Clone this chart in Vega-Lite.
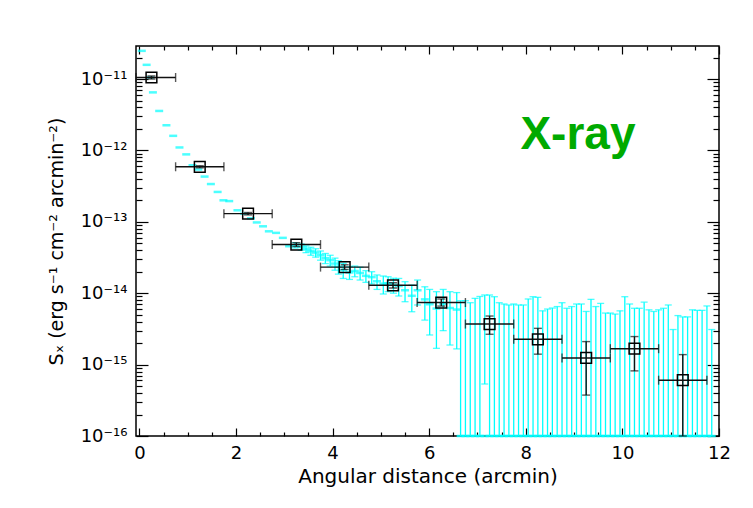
{
  "$schema": "https://vega.github.io/schema/vega-lite/v6.json",
  "width": 583,
  "height": 390,
  "autosize": {"type": "none"},
  "padding": {"left": 136, "top": 46, "right": 34, "bottom": 72},
  "background": "white",
  "config": {
    "view": {"stroke": "#000", "strokeWidth": 1.5},
    "axis": {
      "grid": false, "domain": false, "tickColor": "#000", "tickWidth": 1.2,
      "labelColor": "#000", "titleColor": "#000",
      "labelFont": "DejaVu Sans", "titleFont": "DejaVu Sans",
      "labelFontWeight": "normal", "titleFontWeight": "normal",
      "labelOverlap": false, "labelBound": false, "labelFlush": false
    }
  },
  "datasets": {
    "model": [
      {"x": 0.05, "y": 2.48e-11}, {"x": 0.15, "y": 1.58e-11}, {"x": 0.22, "y": 1.05e-11},
      {"x": 0.28, "y": 6.5e-12}, {"x": 0.41, "y": 3.57e-12}, {"x": 0.56, "y": 2.25e-12},
      {"x": 0.70, "y": 1.6e-12}, {"x": 0.83, "y": 1.1e-12}, {"x": 0.97, "y": 8.8e-13},
      {"x": 1.10, "y": 6.2e-13}, {"x": 1.22, "y": 5.4e-13}, {"x": 1.35, "y": 4.3e-13},
      {"x": 1.48, "y": 3.38e-13}, {"x": 1.62, "y": 2.62e-13}, {"x": 1.74, "y": 2.0e-13},
      {"x": 1.86, "y": 1.95e-13}, {"x": 2.03, "y": 1.45e-13}, {"x": 2.17, "y": 1.3e-13},
      {"x": 2.31, "y": 1.12e-13}, {"x": 2.43, "y": 9.8e-14}, {"x": 2.56, "y": 8.65e-14},
      {"x": 2.68, "y": 7.36e-14}, {"x": 2.83, "y": 7.0e-14}, {"x": 2.97, "y": 5.96e-14},
      {"x": 3.10, "y": 4.55e-14},
      {"x": 3.22, "y": 4.7e-14, "lo": 4.3e-14, "hi": 5.1e-14},
      {"x": 3.35, "y": 4.45e-14, "lo": 4.0e-14, "hi": 4.9e-14},
      {"x": 3.45, "y": 4.15e-14, "lo": 3.7e-14, "hi": 4.6e-14},
      {"x": 3.55, "y": 3.9e-14, "lo": 3.4e-14, "hi": 4.4e-14},
      {"x": 3.65, "y": 3.7e-14, "lo": 3.2e-14, "hi": 4.2e-14},
      {"x": 3.75, "y": 3.4e-14, "lo": 2.9e-14, "hi": 3.9e-14},
      {"x": 3.85, "y": 3.1e-14, "lo": 2.6e-14, "hi": 3.6e-14},
      {"x": 3.95, "y": 2.9e-14, "lo": 2.4e-14, "hi": 3.4e-14},
      {"x": 4.05, "y": 2.6e-14, "lo": 2.1e-14, "hi": 3.1e-14},
      {"x": 4.12, "y": 2.35e-14, "lo": 1.85e-14, "hi": 2.85e-14},
      {"x": 4.22, "y": 2.1e-14, "lo": 1.61e-14, "hi": 2.62e-14},
      {"x": 4.35, "y": 1.95e-14, "lo": 1.56e-14, "hi": 2.35e-14},
      {"x": 4.46, "y": 2.05e-14, "lo": 1.7e-14, "hi": 2.4e-14},
      {"x": 4.57, "y": 1.92e-14, "lo": 1.53e-14, "hi": 2.31e-14},
      {"x": 4.69, "y": 1.75e-14, "lo": 1.42e-14, "hi": 2.07e-14},
      {"x": 4.81, "y": 1.68e-14, "lo": 1.35e-14, "hi": 2.0e-14},
      {"x": 4.92, "y": 1.47e-14, "lo": 1.13e-14, "hi": 1.8e-14},
      {"x": 5.05, "y": 1.36e-14, "lo": 9.75e-15, "hi": 1.74e-14},
      {"x": 5.15, "y": 1.38e-14, "lo": 1.05e-14, "hi": 1.7e-14},
      {"x": 5.26, "y": 1.31e-14, "lo": 1.0e-14, "hi": 1.62e-14},
      {"x": 5.37, "y": 1.26e-14, "lo": 9.14e-15, "hi": 1.61e-14},
      {"x": 5.50, "y": 1.1e-14, "lo": 7.6e-15, "hi": 1.45e-14},
      {"x": 5.64, "y": 9.2e-15, "lo": 5.5e-15, "hi": 1.3e-14},
      {"x": 5.76, "y": 1.1e-14, "lo": 6.84e-15, "hi": 1.53e-14},
      {"x": 5.91, "y": 8.2e-15, "lo": 4.2e-15, "hi": 1.23e-14},
      {"x": 6.01, "y": 7.0e-15, "lo": 2.6e-15, "hi": 1.13e-14},
      {"x": 6.15, "y": 6.1e-15, "lo": 1.69e-15, "hi": 1.05e-14},
      {"x": 6.29, "y": 7.1e-15, "lo": 2.99e-15, "hi": 1.13e-14},
      {"x": 6.43, "y": 6.2e-15, "lo": 1.88e-15, "hi": 1.05e-14},
      {"x": 6.57, "y": 5.9e-15, "lo": 1.66e-15, "hi": 1.02e-14},
      {"x": 6.65, "y": 5e-17, "lo": 5e-17, "hi": 7.85e-15},
      {"x": 6.75, "y": 5e-17, "lo": 5e-17, "hi": 7.85e-15},
      {"x": 6.85, "y": 5e-17, "lo": 5e-17, "hi": 7.36e-15},
      {"x": 6.95, "y": 5e-17, "lo": 5e-17, "hi": 8.47e-15},
      {"x": 7.05, "y": 5e-17, "lo": 5e-17, "hi": 9.0e-15},
      {"x": 7.15, "y": 5e-17, "lo": 5.35e-16, "hi": 9.44e-15},
      {"x": 7.25, "y": 5e-17, "lo": 5e-17, "hi": 9.44e-15},
      {"x": 7.35, "y": 5e-17, "lo": 5e-17, "hi": 8.93e-15},
      {"x": 7.45, "y": 5e-17, "lo": 5e-17, "hi": 7.36e-15},
      {"x": 7.55, "y": 5e-17, "lo": 5e-17, "hi": 7.06e-15},
      {"x": 7.65, "y": 5e-17, "lo": 5e-17, "hi": 6.84e-15},
      {"x": 7.75, "y": 5e-17, "lo": 5e-17, "hi": 7.06e-15},
      {"x": 7.85, "y": 5e-17, "lo": 5e-17, "hi": 6.84e-15},
      {"x": 7.95, "y": 5e-17, "lo": 5e-17, "hi": 6.84e-15},
      {"x": 8.05, "y": 5e-17, "lo": 5e-17, "hi": 8.3e-15},
      {"x": 8.15, "y": 5e-17, "lo": 5e-17, "hi": 8.93e-15},
      {"x": 8.25, "y": 5e-17, "lo": 5e-17, "hi": 8.75e-15},
      {"x": 8.35, "y": 5e-17, "lo": 5e-17, "hi": 5.66e-15},
      {"x": 8.45, "y": 5e-17, "lo": 5e-17, "hi": 6.0e-15},
      {"x": 8.55, "y": 5e-17, "lo": 5e-17, "hi": 6.2e-15},
      {"x": 8.65, "y": 5e-17, "lo": 5e-17, "hi": 6.5e-15},
      {"x": 8.75, "y": 5e-17, "lo": 5e-17, "hi": 7.36e-15},
      {"x": 8.85, "y": 5e-17, "lo": 5e-17, "hi": 6.15e-15},
      {"x": 8.95, "y": 5e-17, "lo": 5e-17, "hi": 6.5e-15},
      {"x": 9.05, "y": 5e-17, "lo": 5e-17, "hi": 7.06e-15},
      {"x": 9.15, "y": 5e-17, "lo": 5e-17, "hi": 7.06e-15},
      {"x": 9.25, "y": 5e-17, "lo": 5e-17, "hi": 5.55e-15},
      {"x": 9.35, "y": 5e-17, "lo": 5e-17, "hi": 8.2e-15},
      {"x": 9.45, "y": 5e-17, "lo": 5e-17, "hi": 6.5e-15},
      {"x": 9.55, "y": 5e-17, "lo": 5e-17, "hi": 7.2e-15},
      {"x": 9.65, "y": 5e-17, "lo": 5e-17, "hi": 5.27e-15},
      {"x": 9.75, "y": 5e-17, "lo": 5e-17, "hi": 5.27e-15},
      {"x": 9.85, "y": 5e-17, "lo": 5e-17, "hi": 5.1e-15},
      {"x": 9.95, "y": 5e-17, "lo": 5e-17, "hi": 5.66e-15},
      {"x": 10.05, "y": 5e-17, "lo": 5e-17, "hi": 8.93e-15},
      {"x": 10.15, "y": 5e-17, "lo": 5e-17, "hi": 7.06e-15},
      {"x": 10.25, "y": 5e-17, "lo": 5e-17, "hi": 6.15e-15},
      {"x": 10.35, "y": 5e-17, "lo": 5e-17, "hi": 6.15e-15},
      {"x": 10.45, "y": 5e-17, "lo": 5e-17, "hi": 7.5e-15},
      {"x": 10.55, "y": 5e-17, "lo": 5e-17, "hi": 5.85e-15},
      {"x": 10.65, "y": 5e-17, "lo": 5e-17, "hi": 5.55e-15},
      {"x": 10.75, "y": 5e-17, "lo": 5e-17, "hi": 5.85e-15},
      {"x": 10.85, "y": 5e-17, "lo": 5e-17, "hi": 6.15e-15},
      {"x": 10.95, "y": 5e-17, "lo": 5e-17, "hi": 6.84e-15},
      {"x": 11.05, "y": 5e-17, "lo": 5e-17, "hi": 3.1e-15},
      {"x": 11.15, "y": 5e-17, "lo": 5e-17, "hi": 4.86e-15},
      {"x": 11.25, "y": 5e-17, "lo": 5e-17, "hi": 4.66e-15},
      {"x": 11.35, "y": 5e-17, "lo": 5e-17, "hi": 4.66e-15},
      {"x": 11.45, "y": 5e-17, "lo": 5e-17, "hi": 5.85e-15},
      {"x": 11.55, "y": 5e-17, "lo": 5e-17, "hi": 5.75e-15},
      {"x": 11.65, "y": 5e-17, "lo": 5e-17, "hi": 5.75e-15},
      {"x": 11.75, "y": 5e-17, "lo": 5e-17, "hi": 6.63e-15},
      {"x": 11.85, "y": 5e-17, "lo": 5e-17, "hi": 3.1e-15}
    ],
    "profile": [
      {"x": 0.25, "xlo": -0.25, "xhi": 0.75, "y": 1.05e-11, "ylo": 1.0e-11, "yhi": 1.1e-11},
      {"x": 1.25, "xlo": 0.75, "xhi": 1.75, "y": 5.9e-13, "ylo": 5.7e-13, "yhi": 6.1e-13},
      {"x": 2.25, "xlo": 1.75, "xhi": 2.75, "y": 1.3e-13, "ylo": 1.25e-13, "yhi": 1.35e-13},
      {"x": 3.25, "xlo": 2.75, "xhi": 3.75, "y": 4.8e-14, "ylo": 4.5e-14, "yhi": 5.1e-14},
      {"x": 4.25, "xlo": 3.75, "xhi": 4.75, "y": 2.32e-14, "ylo": 2.15e-14, "yhi": 2.5e-14},
      {"x": 5.25, "xlo": 4.75, "xhi": 5.75, "y": 1.29e-14, "ylo": 1.18e-14, "yhi": 1.4e-14},
      {"x": 6.25, "xlo": 5.75, "xhi": 6.75, "y": 7.4e-15, "ylo": 6.6e-15, "yhi": 8.3e-15},
      {"x": 7.25, "xlo": 6.75, "xhi": 7.75, "y": 3.7e-15, "ylo": 2.66e-15, "yhi": 4.79e-15},
      {"x": 8.25, "xlo": 7.75, "xhi": 8.75, "y": 2.26e-15, "ylo": 1.4e-15, "yhi": 3.22e-15},
      {"x": 9.25, "xlo": 8.75, "xhi": 9.75, "y": 1.24e-15, "ylo": 3.74e-16, "yhi": 2.1e-15},
      {"x": 10.25, "xlo": 9.75, "xhi": 10.75, "y": 1.67e-15, "ylo": 8.17e-16, "yhi": 2.47e-15},
      {"x": 11.25, "xlo": 10.75, "xhi": 11.75, "y": 6.05e-16, "ylo": 5e-17, "yhi": 1.38e-15}
    ],
    "label": [{"x": 9.08, "y": 1.05e-12, "text": "X-ray"}]
  },
  "resolve": {"axis": {"x": "independent", "y": "independent"}},
  "layer": [
    {
      "data": {"name": "model"},
      "transform": [{"filter": "isValid(datum.lo)"}],
      "mark": {"type": "rule", "color": "#00ffff", "strokeWidth": 1.3},
      "encoding": {
        "x": {"field": "x", "type": "quantitative",
          "scale": {"domain": [-0.07, 12], "nice": false, "zero": false, "clamp": true},
          "axis": {"orient": "bottom", "values": [0, 2, 4, 6, 8, 10, 12], "tickSize": -8,
            "labelFontSize": 18, "labelPadding": 16, "title": "Angular distance (arcmin)",
            "titleFontSize": 20, "titlePadding": 4}},
        "y": {"field": "lo", "type": "quantitative",
          "scale": {"type": "log", "domain": [1e-16, 2.9e-11], "nice": false, "clamp": true},
          "axis": {"orient": "left", "values": [1e-16, 1e-15, 1e-14, 1e-13, 1e-12, 1e-11], "tickSize": -12,
            "labelFontSize": 18, "labelPadding": 21,
            "labelExpr": "datum.value < 5e-16 ? '10⁻¹⁶' : datum.value < 5e-15 ? '10⁻¹⁵' : datum.value < 5e-14 ? '10⁻¹⁴' : datum.value < 5e-13 ? '10⁻¹³' : datum.value < 5e-12 ? '10⁻¹²' : '10⁻¹¹'",
            "title": "Sₓ (erg s⁻¹ cm⁻² arcmin⁻²)", "titleFontSize": 19, "titlePadding": 14}},
        "y2": {"field": "hi"}
      }
    },
    {
      "data": {"name": "model"},
      "transform": [{"filter": "isValid(datum.hi)"}],
      "mark": {"type": "tick", "orient": "horizontal", "color": "#00ffff", "size": 7, "thickness": 1.3},
      "encoding": {
        "x": {"field": "x", "type": "quantitative",
          "axis": {"orient": "bottom", "values": [0.5, 1, 1.5, 2.5, 3, 3.5, 4.5, 5, 5.5, 6.5, 7, 7.5, 8.5, 9, 9.5, 10.5, 11, 11.5],
            "tickSize": -4, "labels": false, "title": null}},
        "y": {"field": "hi", "type": "quantitative",
          "axis": {"orient": "left", "values": [2e-16, 3e-16, 4e-16, 5e-16, 6e-16, 7e-16, 8e-16, 9e-16, 2e-15, 3e-15, 4e-15, 5e-15, 6e-15, 7e-15, 8e-15, 9e-15, 2e-14, 3e-14, 4e-14, 5e-14, 6e-14, 7e-14, 8e-14, 9e-14, 2e-13, 3e-13, 4e-13, 5e-13, 6e-13, 7e-13, 8e-13, 9e-13, 2e-12, 3e-12, 4e-12, 5e-12, 6e-12, 7e-12, 8e-12, 9e-12, 2e-11],
            "tickSize": -6, "labels": false, "title": null}}
      }
    },
    {
      "data": {"name": "model"},
      "transform": [{"filter": "isValid(datum.lo)"}],
      "mark": {"type": "tick", "orient": "horizontal", "color": "#00ffff", "size": 7, "thickness": 1.3},
      "encoding": {
        "x": {"field": "x", "type": "quantitative", "axis": null},
        "y": {"field": "lo", "type": "quantitative", "axis": null}
      }
    },
    {
      "data": {"name": "model"},
      "mark": {"type": "tick", "orient": "horizontal", "color": "#00ffff", "size": 8, "thickness": 2.5},
      "encoding": {
        "x": {"field": "x", "type": "quantitative", "axis": null},
        "y": {"field": "y", "type": "quantitative", "axis": null}
      }
    },
    {
      "data": {"name": "profile"},
      "mark": {"type": "rule", "color": "#111", "strokeWidth": 1.4},
      "encoding": {
        "x": {"field": "xlo", "type": "quantitative",
          "axis": {"orient": "top", "values": [0, 2, 4, 6, 8, 10, 12], "tickSize": -8, "labels": false, "title": null}},
        "x2": {"field": "xhi"},
        "y": {"field": "y", "type": "quantitative",
          "axis": {"orient": "right", "values": [1e-16, 1e-15, 1e-14, 1e-13, 1e-12, 1e-11], "tickSize": -12, "labels": false, "title": null}}
      }
    },
    {
      "data": {"name": "profile"},
      "mark": {"type": "rule", "color": "#111", "strokeWidth": 1.4},
      "encoding": {
        "x": {"field": "x", "type": "quantitative",
          "axis": {"orient": "top", "values": [0.5, 1, 1.5, 2.5, 3, 3.5, 4.5, 5, 5.5, 6.5, 7, 7.5, 8.5, 9, 9.5, 10.5, 11, 11.5],
            "tickSize": -4, "labels": false, "title": null}},
        "y": {"field": "ylo", "type": "quantitative",
          "axis": {"orient": "right", "values": [2e-16, 3e-16, 4e-16, 5e-16, 6e-16, 7e-16, 8e-16, 9e-16, 2e-15, 3e-15, 4e-15, 5e-15, 6e-15, 7e-15, 8e-15, 9e-15, 2e-14, 3e-14, 4e-14, 5e-14, 6e-14, 7e-14, 8e-14, 9e-14, 2e-13, 3e-13, 4e-13, 5e-13, 6e-13, 7e-13, 8e-13, 9e-13, 2e-12, 3e-12, 4e-12, 5e-12, 6e-12, 7e-12, 8e-12, 9e-12, 2e-11],
            "tickSize": -6, "labels": false, "title": null}},
        "y2": {"field": "yhi"}
      }
    },
    {
      "data": {"name": "profile"},
      "mark": {"type": "tick", "orient": "vertical", "color": "#111", "size": 9, "thickness": 1.4},
      "encoding": {
        "x": {"field": "xlo", "type": "quantitative", "axis": null},
        "y": {"field": "y", "type": "quantitative", "axis": null}
      }
    },
    {
      "data": {"name": "profile"},
      "mark": {"type": "tick", "orient": "vertical", "color": "#111", "size": 9, "thickness": 1.4},
      "encoding": {
        "x": {"field": "xhi", "type": "quantitative", "axis": null},
        "y": {"field": "y", "type": "quantitative", "axis": null}
      }
    },
    {
      "data": {"name": "profile"},
      "mark": {"type": "tick", "orient": "horizontal", "color": "#111", "size": 8, "thickness": 1.4},
      "encoding": {
        "x": {"field": "x", "type": "quantitative", "axis": null},
        "y": {"field": "ylo", "type": "quantitative", "axis": null}
      }
    },
    {
      "data": {"name": "profile"},
      "mark": {"type": "tick", "orient": "horizontal", "color": "#111", "size": 8, "thickness": 1.4},
      "encoding": {
        "x": {"field": "x", "type": "quantitative", "axis": null},
        "y": {"field": "yhi", "type": "quantitative", "axis": null}
      }
    },
    {
      "data": {"name": "profile"},
      "mark": {"type": "point", "shape": "square", "size": 115, "filled": false, "stroke": "#000", "strokeWidth": 1.5, "opacity": 1},
      "encoding": {
        "x": {"field": "x", "type": "quantitative", "axis": null},
        "y": {"field": "y", "type": "quantitative", "axis": null}
      }
    },
    {
      "data": {"name": "label"},
      "mark": {"type": "text", "font": "Liberation Sans", "fontSize": 46, "fontWeight": "bold", "color": "#00aa00", "align": "center", "baseline": "alphabetic"},
      "encoding": {
        "x": {"field": "x", "type": "quantitative", "axis": null},
        "y": {"field": "y", "type": "quantitative", "axis": null},
        "text": {"field": "text"}
      }
    }
  ]
}
